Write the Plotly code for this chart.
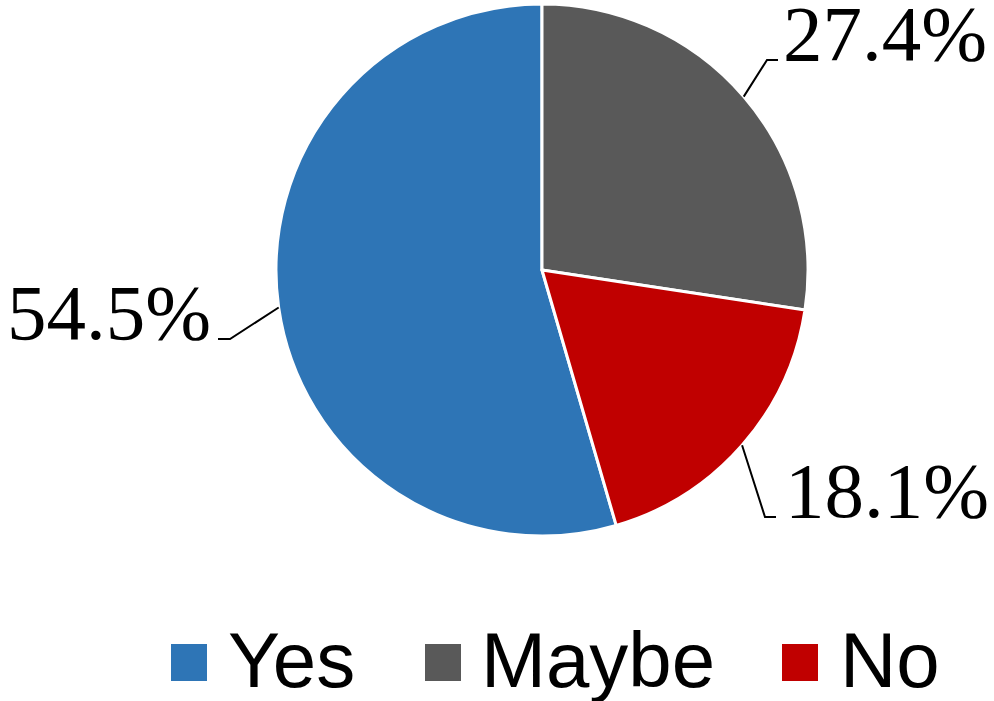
import math
import plotly.graph_objects as go

# ---- data ----
categories = ["Yes", "Maybe", "No"]
values = [54.5, 27.4, 18.1]
value_labels = ["54.5%", "27.4%", "18.1%"]
colors = ["#2E75B6", "#595959", "#C00000"]

# ---- layout constants (pixels) ----
W, H = 994, 701
CX, CY, R = 542, 270, 266
LABEL_FS = 79
LEGEND_FS = 78
PAD = 8
# leader-line elbow (x, y) and text anchor x, side
label_layout = {
    "Yes":   dict(elbow=(230, 339), end_x=218, text_x=213, anchor="right"),
    "Maybe": dict(elbow=(767, 60), end_x=778, text_x=781, anchor="left"),
    "No":    dict(elbow=(765, 517), end_x=776, text_x=783, anchor="left"),
}
legend_layout = [(171, 226), (425, 479), (782, 838)]  # square x, text x
LEG_SQ_W, LEG_SQ_TOP, LEG_SQ_BOT = 36, 644, 681
LEG_BASE = 687


def px(x):
    return x / W


def py(y):
    return 1 - y / H


total = sum(values)
# first slice (Yes) starts so that Maybe starts at 12 o'clock, clockwise
rotation = 360 * (total - values[0]) / total

fig = go.Figure()
fig.add_trace(go.Pie(
    labels=categories,
    values=values,
    sort=False,
    direction="clockwise",
    rotation=rotation,
    marker=dict(colors=colors, line=dict(color="white", width=3)),
    textinfo="none",
    hoverinfo="label+percent",
    showlegend=False,
    domain=dict(x=[px(CX - R), px(CX + R)], y=[py(CY + R), py(CY - R)]),
))

shapes = []
annotations = []
start = rotation
for cat, v, lab in zip(categories, values, value_labels):
    mid = start + 0.5 * 360 * v / total
    start += 360 * v / total
    a = math.radians(mid)
    sx = CX + R * math.sin(a)
    sy = CY - R * math.cos(a)
    L = label_layout[cat]
    ex, ey = L["elbow"]
    path = f"M {px(sx)} {py(sy)} L {px(ex)} {py(ey)} L {px(L['end_x'])} {py(ey)}"
    shapes.append(dict(type="path", xref="paper", yref="paper", path=path,
                       line=dict(color="black", width=2)))
    shift = -(PAD - 1) if L["anchor"] == "left" else (PAD - 1)
    annotations.append(dict(
        x=px(L["text_x"] + shift), y=py(ey - 0.3375 * LABEL_FS), xref="paper", yref="paper",
        text=lab, showarrow=False, xanchor=L["anchor"], yanchor="middle", borderpad=PAD,
        font=dict(family="Liberation Serif, Times New Roman, serif", size=LABEL_FS, color="black"),
    ))

for (sqx, tx), cat, col in zip(legend_layout, categories, colors):
    shapes.append(dict(type="rect", xref="paper", yref="paper",
                       x0=px(sqx), x1=px(sqx + LEG_SQ_W), y0=py(LEG_SQ_BOT), y1=py(LEG_SQ_TOP),
                       fillcolor=col, line=dict(width=0)))
    annotations.append(dict(
        x=px(tx - (PAD - 1)), y=py(LEG_BASE - 0.347 * LEGEND_FS), xref="paper", yref="paper",
        text=cat, showarrow=False, xanchor="left", yanchor="middle", borderpad=PAD,
        font=dict(family="Liberation Sans, Arial, sans-serif", size=LEGEND_FS, color="black"),
    ))

fig.update_layout(
    width=W, height=H,
    margin=dict(l=0, r=0, t=0, b=0),
    paper_bgcolor="white", plot_bgcolor="white",
    shapes=shapes, annotations=annotations,
    showlegend=False,
)

fig.write_html("out.html")
